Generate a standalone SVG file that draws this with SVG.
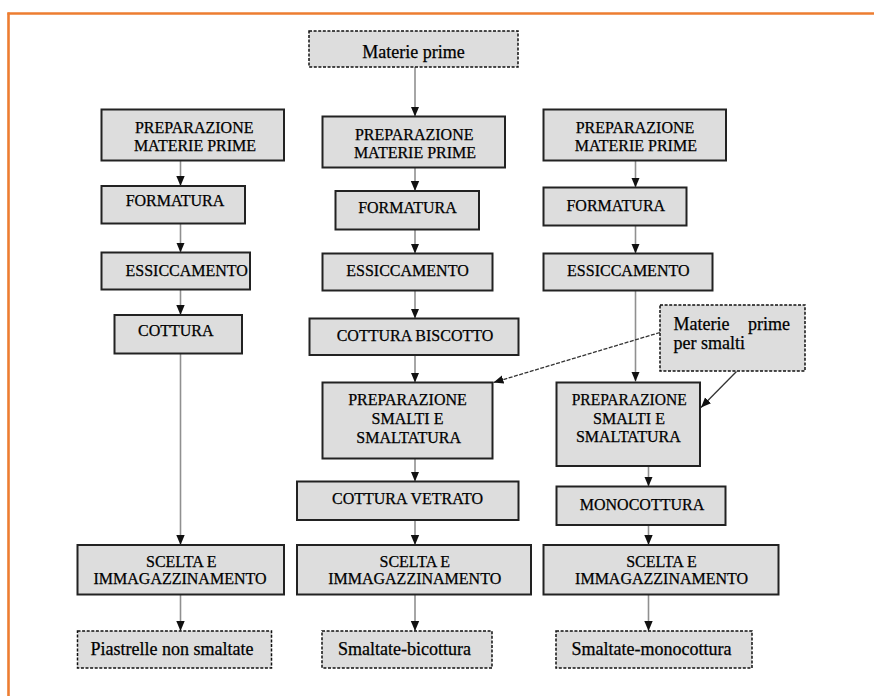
<svg xmlns="http://www.w3.org/2000/svg" width="874" height="696" viewBox="0 0 874 696">
  <style>
    .box { fill: #dddddd; stroke: #222222; stroke-width: 2; }
    .dbox { fill: #dddddd; stroke: #111111; stroke-width: 1.5; stroke-dasharray: 3 1.6; }
    .cap, .low { font-family: "Liberation Serif", "Times New Roman", serif; fill: #000000; stroke: #000000; stroke-width: 0.25; text-anchor: middle; }
    .cap { font-size: 16px; }
    .low { font-size: 18px; }
    .low.start { text-anchor: start; }
    .low.end { text-anchor: end; }
    .flow { fill: none; stroke: #909090; stroke-width: 1.6; marker-end: url(#head); }
    .feed { fill: none; stroke: #333333; stroke-width: 1.3; marker-end: url(#head); }
    .frame { stroke: #ED7D31; stroke-width: 2.6; fill: none; }
  </style>
  <defs>
    <marker id="head" markerUnits="userSpaceOnUse" markerWidth="10" markerHeight="10" viewBox="0 0 10 10" refX="10" refY="5" orient="auto">
      <path d="M0,0.8 L10,5 L0,9.2 z" fill="#111111"/>
    </marker>
  </defs>

  <rect width="874" height="696" fill="#ffffff"/>

  <!-- page frame -->
  <g id="frame">
    <line class="frame" x1="7.5" y1="13.5" x2="874" y2="13.5"/>
    <line class="frame" x1="8.5" y1="12.5" x2="8.5" y2="696"/>
  </g>

  <!-- connectors -->
  <g id="connectors">
    <!-- column 1 -->
    <line class="flow" x1="180.5" y1="161" x2="180.5" y2="186"/>
    <line class="flow" x1="180.5" y1="224" x2="180.5" y2="252.5"/>
    <line class="flow" x1="180.5" y1="290" x2="180.5" y2="315"/>
    <line class="flow" x1="180.5" y1="354" x2="180.5" y2="545"/>
    <line class="flow" x1="180.5" y1="595" x2="180.5" y2="631"/>
    <!-- column 2 -->
    <line class="flow" x1="415" y1="67" x2="415" y2="116.5"/>
    <line class="flow" x1="415" y1="168" x2="415" y2="191"/>
    <line class="flow" x1="415" y1="230" x2="415" y2="253.5"/>
    <line class="flow" x1="415" y1="291" x2="415" y2="318.5"/>
    <line class="flow" x1="415" y1="355.5" x2="415" y2="382.5"/>
    <line class="flow" x1="415" y1="459" x2="415" y2="481.5"/>
    <line class="flow" x1="415" y1="520.5" x2="415" y2="545"/>
    <line class="flow" x1="415" y1="595" x2="415" y2="631"/>
    <!-- column 3 -->
    <line class="flow" x1="635.5" y1="161" x2="635.5" y2="187.5"/>
    <line class="flow" x1="635.5" y1="226" x2="635.5" y2="253.5"/>
    <line class="flow" x1="635.5" y1="291" x2="635.5" y2="381.5"/>
    <line class="flow" x1="648.5" y1="456.5" x2="648.5" y2="486.5"/>
    <line class="flow" x1="648.5" y1="525.5" x2="648.5" y2="545"/>
    <line class="flow" x1="648.5" y1="595" x2="648.5" y2="631"/>
    <!-- glaze raw materials feeds -->
    <line class="feed" x1="660" y1="332.5" x2="493.5" y2="382.5" stroke-dasharray="4 1.5"/>
    <line class="feed" x1="736.5" y1="371.5" x2="701" y2="407.5"/>
  </g>

  <!-- column 1: unglazed tiles -->
  <g id="c1-prep">
    <rect class="box" x="101.5" y="109.5" width="182.5" height="51"/>
    <text class="cap" x="194.2" y="132.5">PREPARAZIONE</text>
    <text class="cap" x="195" y="150.5">MATERIE PRIME</text>
  </g>
  <g id="c1-form">
    <rect class="box" x="101.5" y="186" width="143.5" height="37.5"/>
    <text class="cap" x="175" y="206">FORMATURA</text>
  </g>
  <g id="c1-ess">
    <rect class="box" x="101.5" y="252.5" width="148.5" height="37"/>
    <text class="cap" x="186.7" y="275.5">ESSICCAMENTO</text>
  </g>
  <g id="c1-cott">
    <rect class="box" x="114.5" y="315" width="127.5" height="38.5"/>
    <text class="cap" x="175.8" y="335.5">COTTURA</text>
  </g>
  <g id="c1-scelta">
    <rect class="box" x="77.5" y="545" width="206.5" height="49.5"/>
    <text class="cap" x="181.3" y="566.5">SCELTA E</text>
    <text class="cap" x="180" y="584">IMMAGAZZINAMENTO</text>
  </g>
  <g id="c1-out">
    <rect class="dbox" x="77.5" y="631" width="194" height="37"/>
    <text class="low" x="172" y="655">Piastrelle non smaltate</text>
  </g>

  <!-- column 2: double firing -->
  <g id="raw">
    <rect class="dbox" x="309" y="31" width="209" height="36"/>
    <text class="low" x="413.5" y="57.5">Materie prime</text>
  </g>
  <g id="c2-prep">
    <rect class="box" x="322.5" y="116.5" width="182.5" height="51"/>
    <text class="cap" x="414.2" y="139.5">PREPARAZIONE</text>
    <text class="cap" x="415" y="157.5">MATERIE PRIME</text>
  </g>
  <g id="c2-form">
    <rect class="box" x="335.5" y="191" width="143.5" height="38.5"/>
    <text class="cap" x="407.5" y="212.5">FORMATURA</text>
  </g>
  <g id="c2-ess">
    <rect class="box" x="322.5" y="253.5" width="170" height="37"/>
    <text class="cap" x="407.5" y="275.5">ESSICCAMENTO</text>
  </g>
  <g id="c2-bisc">
    <rect class="box" x="309.5" y="318.5" width="209" height="36.5"/>
    <text class="cap" x="415" y="340.5">COTTURA BISCOTTO</text>
  </g>
  <g id="c2-smalti">
    <rect class="box" x="322.5" y="382.5" width="170" height="76"/>
    <text class="cap" x="407.5" y="404.5">PREPARAZIONE</text>
    <text class="cap" x="407.5" y="423.5">SMALTI E</text>
    <text class="cap" x="408.7" y="442.5">SMALTATURA</text>
  </g>
  <g id="c2-vetr">
    <rect class="box" x="297" y="481.5" width="221.5" height="38.5"/>
    <text class="cap" x="407.5" y="504">COTTURA VETRATO</text>
  </g>
  <g id="c2-scelta">
    <rect class="box" x="297" y="545" width="234" height="49.5"/>
    <text class="cap" x="414.8" y="566.5">SCELTA E</text>
    <text class="cap" x="414.7" y="584">IMMAGAZZINAMENTO</text>
  </g>
  <g id="c2-out">
    <rect class="dbox" x="322" y="631" width="170" height="37"/>
    <text class="low" x="404.5" y="655">Smaltate-bicottura</text>
  </g>

  <!-- column 3: single firing -->
  <g id="c3-prep">
    <rect class="box" x="543.5" y="109.5" width="182.5" height="51"/>
    <text class="cap" x="635" y="132.5">PREPARAZIONE</text>
    <text class="cap" x="635.8" y="150.5">MATERIE PRIME</text>
  </g>
  <g id="c3-form">
    <rect class="box" x="543.5" y="187.5" width="143" height="38"/>
    <text class="cap" x="615.8" y="210.5">FORMATURA</text>
  </g>
  <g id="c3-ess">
    <rect class="box" x="543.5" y="253.5" width="169" height="37"/>
    <text class="cap" x="628.3" y="275.5">ESSICCAMENTO</text>
  </g>
  <g id="glaze-raw">
    <rect class="dbox" x="660" y="305" width="145" height="66"/>
    <text class="low start" x="673.5" y="330">Materie</text>
    <text class="low end" x="790" y="330">prime</text>
    <text class="low start" x="673.5" y="349">per smalti</text>
  </g>
  <g id="c3-smalti">
    <rect class="box" x="556.5" y="382.5" width="143.5" height="83.5"/>
    <text class="cap" x="629.2" y="404.5" textLength="115" lengthAdjust="spacingAndGlyphs">PREPARAZIONE</text>
    <text class="cap" x="629" y="424">SMALTI E</text>
    <text class="cap" x="628.3" y="441.5">SMALTATURA</text>
  </g>
  <g id="c3-mono">
    <rect class="box" x="556.5" y="486.5" width="169" height="38.5"/>
    <text class="cap" x="642" y="509.5">MONOCOTTURA</text>
  </g>
  <g id="c3-scelta">
    <rect class="box" x="543.5" y="545" width="235" height="49.5"/>
    <text class="cap" x="661.5" y="566.5">SCELTA E</text>
    <text class="cap" x="661.6" y="584">IMMAGAZZINAMENTO</text>
  </g>
  <g id="c3-out">
    <rect class="dbox" x="556" y="631" width="196" height="37"/>
    <text class="low" x="651.5" y="655">Smaltate-monocottura</text>
  </g>
</svg>
